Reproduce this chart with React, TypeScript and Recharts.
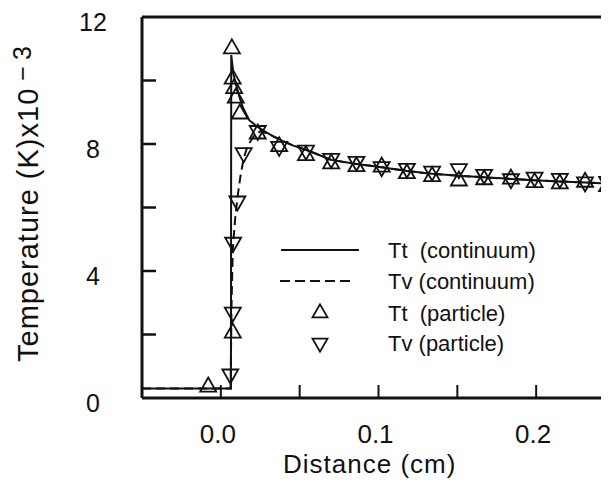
import React from 'react';
import { ComposedChart, Line, Scatter, XAxis, YAxis, ReferenceLine, Legend, Label } from 'recharts';

// ---- axes ----
const X_DOMAIN = [-0.05, 0.25];
const X_TICKS = [0, 0.05, 0.1, 0.15, 0.2, 0.25];
const X_LABELED = [0, 0.1, 0.2];
const Y_DOMAIN = [0, 12];
const Y_TICKS = [0, 2, 4, 6, 8, 10, 12];
const Y_LABELED = [0, 4, 8, 12];

// ---- Tt (continuum) ----
const ttContX = [-0.05, 0.0064, 0.0066, 0.0072, 0.008, 0.0095, 0.012, 0.014, 0.018, 0.023, 0.027, 0.033, 0.039, 0.046, 0.052, 0.06, 0.07, 0.086, 0.102, 0.118, 0.134, 0.151, 0.167, 0.184, 0.199, 0.215, 0.231, 0.25];
const ttContT = [0.3, 0.3, 10.8, 10.55, 10.2, 9.9, 9.45, 9.15, 8.75, 8.55, 8.42, 8.25, 8.1, 7.95, 7.85, 7.7, 7.5, 7.37, 7.27, 7.15, 7.06, 7.0, 6.95, 6.9, 6.86, 6.82, 6.79, 6.74];

// ---- Tv (continuum) ----
const tvContX = [-0.05, 0.0062, 0.0068, 0.0076, 0.009, 0.0105, 0.0125, 0.0145, 0.017, 0.021, 0.025, 0.03, 0.039, 0.046, 0.052, 0.06, 0.07, 0.086, 0.102, 0.118, 0.134, 0.151, 0.167, 0.184, 0.199, 0.215, 0.231, 0.25];
const tvContT = [0.3, 0.3, 3.0, 4.7, 5.6, 6.3, 7.0, 7.55, 7.95, 8.25, 8.4, 8.32, 8.1, 7.95, 7.85, 7.7, 7.5, 7.37, 7.27, 7.15, 7.06, 7.0, 6.95, 6.9, 6.86, 6.82, 6.79, 6.74];

// ---- Tt (particle) ----
const ttPartX = [-0.008, 0.0076, 0.007, 0.0075, 0.0085, 0.0095, 0.012, 0.0234, 0.037, 0.054, 0.07, 0.086, 0.102, 0.118, 0.134, 0.151, 0.167, 0.184, 0.199, 0.215, 0.231, 0.245];
const ttPartT = [0.35, 2.05, 11.0, 10.05, 9.75, 9.45, 8.95, 8.32, 7.92, 7.64, 7.38, 7.29, 7.28, 7.07, 6.98, 6.84, 6.88, 6.9, 6.79, 6.75, 6.8, 6.66];

// ---- Tv (particle) ----
const tvPartX = [0.006, 0.0076, 0.0078, 0.0105, 0.0145, 0.0234, 0.037, 0.054, 0.07, 0.086, 0.102, 0.118, 0.134, 0.151, 0.167, 0.184, 0.199, 0.215, 0.231, 0.245];
const tvPartT = [0.75, 2.7, 4.9, 6.2, 7.72, 8.42, 7.92, 7.8, 7.54, 7.45, 7.28, 7.23, 7.14, 7.22, 7.04, 6.9, 6.95, 6.91, 6.8, 6.82];

const zip = (xs: number[], ts: number[]) => xs.map((x, i) => ({ x, t: ts[i] }));
const ttCont = zip(ttContX, ttContT);
const tvCont = zip(tvContX, tvContT);
const ttPart = zip(ttPartX, ttPartT);
const tvPart = zip(tvPartX, tvPartT);

const FONT = '"Liberation Sans", Arial, Helvetica, sans-serif';
const INK = '#111';

const triPath = (cx: number, cy: number, w: number, h: number, up: boolean) => {
  const s = up ? 1 : -1;
  return `M${cx},${cy - s * (2 * h) / 3} L${cx + w / 2},${cy + s * h / 3} L${cx - w / 2},${cy + s * h / 3} Z`;
};

const TriUp = (props: any) => {
  const { cx, cy } = props;
  if (cx == null || cy == null) return null;
  return <path d={triPath(cx, cy, 16, 14, true)} fill="none" stroke={INK} strokeWidth={1.8} strokeLinejoin="miter" />;
};
const TriDown = (props: any) => {
  const { cx, cy } = props;
  if (cx == null || cy == null) return null;
  return <path d={triPath(cx, cy, 16, 14, false)} fill="none" stroke={INK} strokeWidth={1.8} strokeLinejoin="miter" />;
};

const XTick = (props: any) => {
  const { x, y, payload } = props;
  const v = payload.value;
  const labeled = X_LABELED.some((l) => Math.abs(l - v) < 1e-9);
  return (
    <g>
      <line x1={x} x2={x} y1={y} y2={y - 13} stroke={INK} strokeWidth={2} />
      {labeled && (
        <text x={x - 3} y={y + 45} textAnchor="middle" fontFamily={FONT} fontSize={26} fill={INK}>
          {v.toFixed(1)}
        </text>
      )}
    </g>
  );
};

const YTick = (props: any) => {
  const { x, y, payload } = props;
  const v = payload.value;
  const labeled = Y_LABELED.includes(v);
  return (
    <g>
      {v !== 0 && v !== 12 && <line x1={x} x2={x + 14} y1={y} y2={y} stroke={INK} strokeWidth={2.5} />}
      {labeled && (
        <text x={x - 49} y={y + 14} textAnchor="middle" fontFamily={FONT} fontSize={25} fill={INK}>
          {String(v)}
        </text>
      )}
    </g>
  );
};

const LegendBox = () => {
  const rows = [250, 281, 313, 343].map((r) => r - 230);
  const textX = 118;
  const ts = { fontFamily: FONT, fontSize: 22, fill: INK } as const;
  return (
    <svg width={300} height={140} style={{ display: 'block', overflow: 'visible' }}>
      <line x1={11} x2={89} y1={rows[0]} y2={rows[0]} stroke={INK} strokeWidth={2} />
      <text x={textX} y={rows[0] + 8} {...ts} xmlSpace="preserve">Tt  (continuum)</text>
      <line x1={10} x2={83} y1={rows[1]} y2={rows[1]} stroke={INK} strokeWidth={2} strokeDasharray="10 5" />
      <text x={textX} y={rows[1] + 8} {...ts}>Tv (continuum)</text>
      <path d={triPath(50, rows[2], 15, 13, true)} fill="none" stroke={INK} strokeWidth={1.8} />
      <text x={textX} y={rows[2] + 8} {...ts} xmlSpace="preserve">Tt  (particle)</text>
      <path d={triPath(50, rows[3], 15, 13, false)} fill="none" stroke={INK} strokeWidth={1.8} />
      <text x={textX} y={rows[3] + 8} {...ts}>Tv (particle)</text>
    </svg>
  );
};

export default function App() {
  return (
    <div style={{ width: 601, height: 480, overflow: 'hidden', position: 'relative', background: '#fff' }}>
      <ComposedChart width={620} height={480} margin={{ top: 9, right: 13, bottom: 40, left: 0 }}>
        <XAxis
          dataKey="x"
          type="number"
          domain={X_DOMAIN}
          ticks={X_TICKS}
          interval={0}
          allowDataOverflow
          height={50}
          tickSize={0}
          tickMargin={0}
          tickLine={false}
          tick={<XTick />}
          axisLine={{ stroke: INK, strokeWidth: 3 }}
        >
          <Label
            content={() => (
              <text x={275} y={465} fontFamily={FONT} fontSize={26} letterSpacing={1} fill={INK}>
                Distance (cm)
              </text>
            )}
          />
        </XAxis>
        <YAxis
          dataKey="t"
          type="number"
          domain={Y_DOMAIN}
          ticks={Y_TICKS}
          interval={0}
          allowDataOverflow
          width={134}
          tickSize={0}
          tickMargin={0}
          tickLine={false}
          tick={<YTick />}
          axisLine={{ stroke: INK, strokeWidth: 3 }}
        >
          <Label
            content={() => (
              <text
                x={30}
                y={354}
                transform="rotate(-90, 30, 354)"
                textAnchor="start"
                fontFamily={FONT}
                fontSize={29}
                letterSpacing={1.0}
                fill={INK}
              >
                Temperature (K)x10
                <tspan dy={-7} dx={7} fontSize={25} letterSpacing={6}>−3</tspan>
              </text>
            )}
          />
        </YAxis>
        <ReferenceLine y={12} stroke={INK} strokeWidth={3} ifOverflow="visible" />
        <Line data={ttCont} dataKey="t" type="linear" stroke={INK} strokeWidth={2} dot={false} isAnimationActive={false} />
        <Line data={tvCont} dataKey="t" type="linear" stroke={INK} strokeWidth={2} strokeDasharray="9 5" dot={false} isAnimationActive={false} />
        <Scatter data={ttPart} dataKey="t" shape={<TriUp />} isAnimationActive={false} />
        <Scatter data={tvPart} dataKey="t" shape={<TriDown />} isAnimationActive={false} />
        <Legend
          layout="vertical"
          align="center"
          verticalAlign="middle"
          content={() => <LegendBox />}
          wrapperStyle={{ position: 'absolute', left: 262, top: 222, width: 300, height: 140 }}
        />
      </ComposedChart>
    </div>
  );
}
